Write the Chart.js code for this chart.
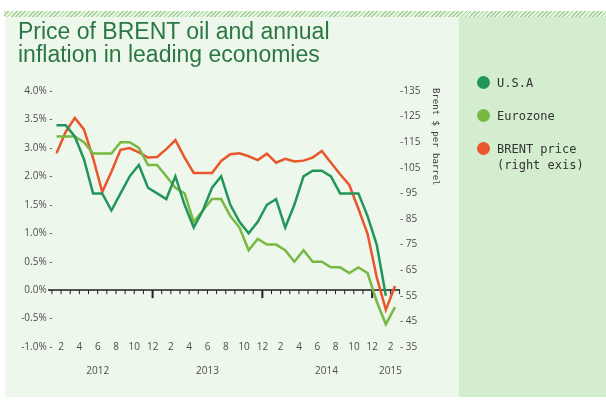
<!DOCTYPE html>
<html>
<head>
<meta charset="utf-8">
<script src="https://cdn.jsdelivr.net/npm/chart.js@4"></script>
<style>
  body { margin: 0; }
  #wrap { position: relative; width: 606px; height: 401px; background: #fff; overflow: hidden; font-family: "Liberation Sans", Arial, sans-serif; }
  .hatch { position: absolute; left: 4px; top: 11px; width: 602px; height: 6px;
    background: repeating-linear-gradient(-45deg, #a6d498 0 1.2px, #e6f3e1 1.2px 3px); }
  .panel-left { position: absolute; left: 5px; top: 17px; width: 454px; height: 380px; background: #eef7eb; }
  .panel-right { position: absolute; left: 459px; top: 17px; width: 147px; height: 380px; background: #d5edcf; }
  #chart { position: absolute; left: 0; top: 0; }
  .title { position: absolute; left: 18px; top: 20px; font-size: 23px; line-height: 22.5px; color: #2a7743; }
  .legend-item { position: absolute; left: 477px; font-family: "DejaVu Sans Mono", monospace; font-size: 12px; line-height: 16px; color: #333; }
  .dot { position: absolute; left: 0; width: 13px; height: 13px; border-radius: 50%; }
  .legend-item span { position: absolute; left: 20px; white-space: pre; }
  .axis-title { position: absolute; left: 431px; top: 88px; writing-mode: vertical-rl; font-family: "DejaVu Sans Mono", monospace; font-size: 9px; color: #444; }
</style>
</head>
<body>
<div id="wrap">
  <div class="hatch"></div>
  <div class="panel-left"></div>
  <div class="panel-right"></div>
  <canvas id="chart" width="459" height="401"></canvas>
  <div class="title">Price of BRENT oil and annual<br>inflation in leading economies</div>
  <div id="legend"></div>
  <div class="axis-title">Brent $ per barrel</div>
</div>
<script>
// months Jan 2012 - Feb 2015
const months = [
  '2012-01','2012-02','2012-03','2012-04','2012-05','2012-06','2012-07','2012-08','2012-09','2012-10','2012-11','2012-12',
  '2013-01','2013-02','2013-03','2013-04','2013-05','2013-06','2013-07','2013-08','2013-09','2013-10','2013-11','2013-12',
  '2014-01','2014-02','2014-03','2014-04','2014-05','2014-06','2014-07','2014-08','2014-09','2014-10','2014-11','2014-12',
  '2015-01','2015-02'
];

// annual inflation, %
const usa = [
  2.9, 2.9, 2.7, 2.3, 1.7, 1.7, 1.4, 1.7, 2.0, 2.2, 1.8, 1.7,
  1.6, 2.0, 1.5, 1.1, 1.4, 1.8, 2.0, 1.5, 1.2, 1.0, 1.2, 1.5,
  1.6, 1.1, 1.5, 2.0, 2.1, 2.1, 2.0, 1.7, 1.7, 1.7, 1.3, 0.8,
  -0.1
];
const eurozone = [
  2.7, 2.7, 2.7, 2.6, 2.4, 2.4, 2.4, 2.6, 2.6, 2.5, 2.2, 2.2,
  2.0, 1.8, 1.7, 1.2, 1.4, 1.6, 1.6, 1.3, 1.1, 0.7, 0.9, 0.8,
  0.8, 0.7, 0.5, 0.7, 0.5, 0.5, 0.4, 0.4, 0.3, 0.4, 0.3, -0.2,
  -0.6, -0.3
];
// BRENT, $ per barrel (right axis)
const brent = [
  110.7, 119.0, 124.5, 120.0, 108.8, 95.5, 103.5, 112.0, 112.7, 111.0, 109.0, 109.2,
  112.3, 115.8, 109.0, 103.0, 103.0, 103.0, 107.7, 110.3, 110.7, 109.5, 108.0, 110.5,
  107.0, 108.5, 107.5, 107.8, 109.0, 111.6, 107.0, 102.5, 98.3, 89.0, 79.2, 62.3,
  49.5, 58.8
];

const seriesNames = ['U.S.A', 'Eurozone', 'BRENT price\n(right exis)'];
const seriesColors = ['#22965a', '#77b943', '#e8562b'];

// left axis labels as printed (bottom to top)
const leftTickLabels = ['-1.0%', '-0.5%', '0.0%', '0.5%', '1.0%', '1.5%', '2.0%', '3.0%', '3.5%', '4.0%'];
const yearTicks = { '2012-06': '2012', '2013-06': '2013', '2014-07': '2014', '2015-02': '2015' };

const tickFont = { family: 'Open Sans', size: 10 };
const tickColor = '#4d4d4d';

// Zero line with month ticks, drawn under the lines
const zeroLine = {
  id: 'zeroLine',
  beforeDatasetsDraw(chart) {
    const { ctx, scales: { x, y } } = chart;
    const y0 = y.getPixelForValue(0);
    ctx.save();
    ctx.strokeStyle = '#1e1e1e';
    ctx.lineWidth = 1.5;
    ctx.beginPath();
    ctx.moveTo(x.left - 8.5, y0);
    ctx.lineTo(x.right + 5, y0);
    ctx.stroke();
    for (let i = -0.5; i < months.length; i++) {
      const px = x.getPixelForValue(i);
      const major = months[i + 0.5] && months[i + 0.5].endsWith('-12');
      ctx.lineWidth = major ? 2 : 1;
      ctx.beginPath();
      ctx.moveTo(px, y0);
      ctx.lineTo(px, y0 + (major ? 8 : 4));
      ctx.stroke();
    }
    ctx.restore();
  }
};

const makeDataset = (label, data, color, axis) => ({
  label, data,
  borderColor: color,
  backgroundColor: color,
  borderWidth: 2.5,
  pointRadius: 0,
  tension: 0,
  yAxisID: axis
});

new Chart(document.getElementById('chart'), {
  type: 'line',
  data: {
    labels: months,
    datasets: [
      makeDataset(seriesNames[0], usa, seriesColors[0], 'y'),
      makeDataset(seriesNames[1], eurozone, seriesColors[1], 'y'),
      makeDataset(seriesNames[2], brent, seriesColors[2], 'y2')
    ]
  },
  options: {
    responsive: false,
    devicePixelRatio: 1,
    animation: false,
    layout: { padding: { top: 91, left: 0, right: 0, bottom: 0 } },
    plugins: { legend: { display: false }, tooltip: { enabled: false } },
    scales: {
      x: {
        offset: false,
        weight: 1,
        grid: { display: false, drawTicks: false },
        border: { display: false },
        ticks: {
          autoSkip: false, maxRotation: 0, labelOffset: -4.5, padding: -6, mirror: true,
          font: tickFont, color: tickColor,
          callback: (v, i) => {
            const m = parseInt(months[i].slice(5), 10);
            return m % 2 === 0 ? String(m) : '';
          }
        },
        afterFit: (s) => { s.height = 14; }
      },
      x2: {
        type: 'category',
        position: 'bottom',
        offset: false,
        weight: 2,
        grid: { display: false, drawTicks: false },
        border: { display: false },
        ticks: {
          autoSkip: false, maxRotation: 0, labelOffset: -4.5, padding: 4,
          font: tickFont, color: tickColor,
          callback: (v, i) => yearTicks[months[i]] || ''
        },
        afterFit: (s) => { s.height = 40; }
      },
      y: {
        position: 'left',
        min: -1, max: 3.5,
        grid: { display: false, drawTicks: false },
        border: { display: false },
        ticks: {
          stepSize: 0.5, padding: 4,
          font: tickFont, color: tickColor,
          callback: (v, i) => leftTickLabels[i] + ' -'
        },
        afterFit: (s) => { s.width = 56.5; }
      },
      y2: {
        position: 'right',
        min: 35, max: 135,
        grid: { display: false, drawTicks: false },
        border: { display: false },
        ticks: {
          stepSize: 10, padding: 5,
          font: tickFont, color: tickColor,
          callback: (v) => '-' + String(v).padStart(3, ' ')
        },
        afterFit: (s) => { s.width = 64; }
      }
    }
  },
  plugins: [zeroLine]
});

// legend in the right panel
const legendTops = [76, 109, 142];
const legend = document.getElementById('legend');
seriesNames.forEach((name, i) => {
  const item = document.createElement('div');
  item.className = 'legend-item';
  item.style.top = legendTops[i] + 'px';
  item.innerHTML = `<div class="dot" style="background:${seriesColors[i]}"></div><span style="top:-1px">${name}</span>`;
  legend.appendChild(item);
});
</script>
</body>
</html>
